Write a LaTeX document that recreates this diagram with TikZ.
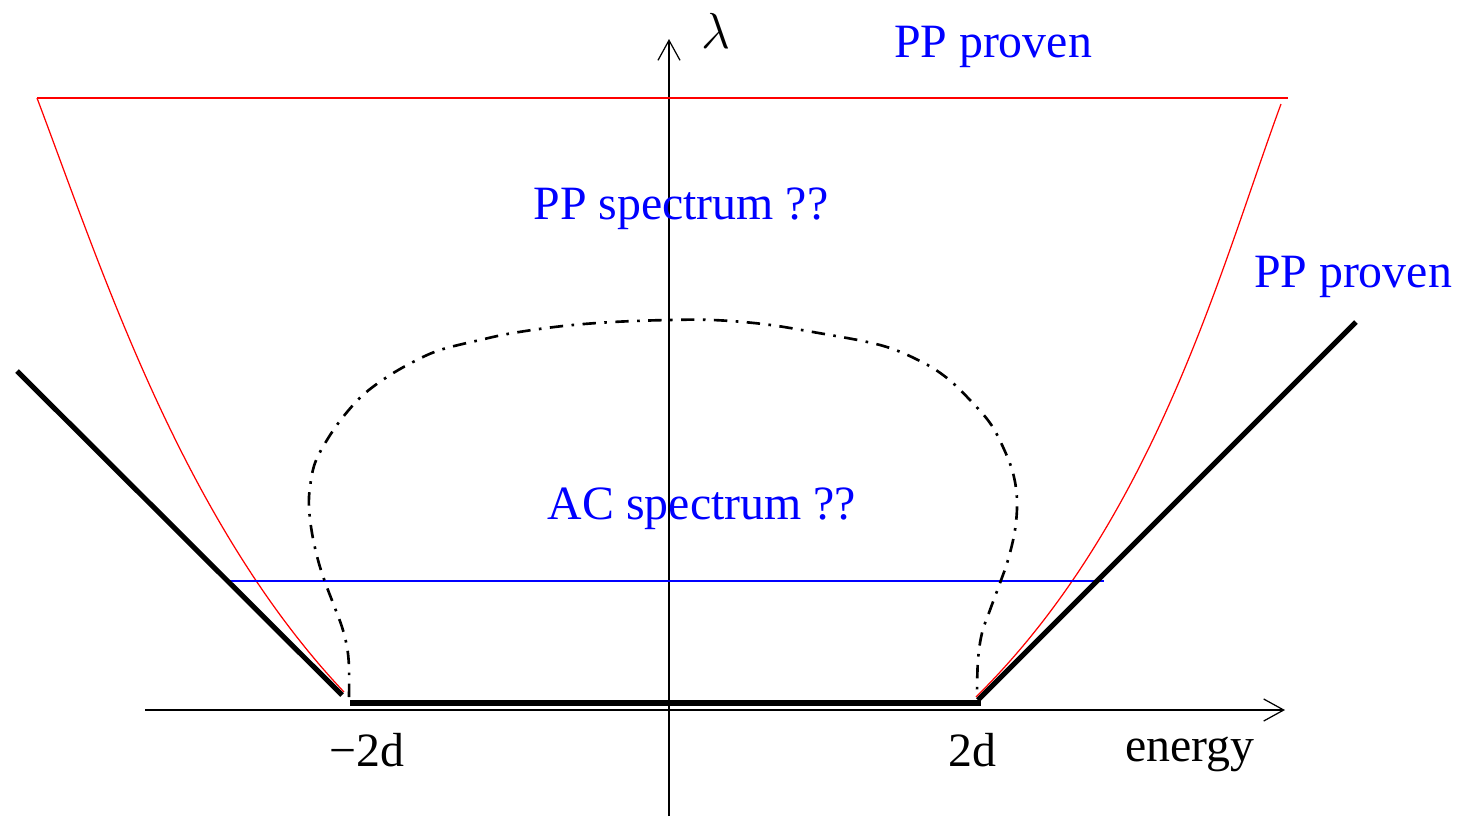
\documentclass[tikz,border=0pt]{standalone}
\usepackage{fontspec}
\setmainfont{Liberation Serif}
\usetikzlibrary{arrows.meta}
\begin{document}
\begin{tikzpicture}[x=0.01cm,y=-0.01cm,
  thick black/.style={line width=1.45pt, black},
  redline/.style={line width=0.35pt, red},
  axis/.style={line width=0.35pt, -{Straight Barb[length=2mm,width=2.2mm]}},
  dashdot/.style={line width=0.75pt, dash pattern=on 3.8pt off 2.4pt on 0.75pt off 2.4pt},
  lab/.style={font=\fontsize{13.6}{16}\selectfont, inner sep=0pt},
  bluelab/.style={lab, text=blue}]
\useasboundingbox (0,0) rectangle (1459,817);
% axes
\coordinate (xs) at (145,710);
\coordinate (xe) at (1285,710);
\coordinate (ys) at (669,816);
\coordinate (ye) at (669,39);
\draw[axis] (xs) -- (xe);
\draw[axis] (ys) -- (ye);
% red region
\coordinate (rtl) at (37,98);
\coordinate (rtr) at (1288,98);
\coordinate (rrs) at (1281,104);
\coordinate (rlb) at (344,692);
\coordinate (rrb) at (976,697);
\draw[redline] (rtl) -- (rtr);
\draw[redline] (rtl) .. controls (102,270) and (182,520) .. (rlb);
\draw[redline] (rrs) .. controls (1220,270) and (1155,520) .. (rrb);
% blue line
\coordinate (bl) at (228,581);
\coordinate (br) at (1104,581);
\draw[blue, line width=0.35pt] (bl) -- (br);
% thick black lines
\coordinate (la) at (17,371);
\coordinate (lb) at (342,695);
\coordinate (ba) at (350,703);
\coordinate (bb) at (981,703);
\coordinate (ra) at (978,700);
\coordinate (rb) at (1356,322);
\draw[thick black] (la) -- (lb);
\draw[thick black] (ba) -- (bb);
\draw[thick black] (ra) -- (rb);
% dash-dot curve
\draw[dashdot] plot[smooth, tension=0.6] coordinates {
  (349,697) (349,667) (347,647) (342,627) (333,603) (325,582) (318,560)
  (312,533) (309,507) (310,487) (315,463) (327,440) (343,417) (363,395)
  (387,377) (413,362) (440,350) (480,340) (513,333) (563,326) (613,322)
  (668,320) (713,320) (763,324) (813,332) (880,345) (920,361) (947,378)
  (970,400) (990,423) (1003,447) (1013,473) (1017,500) (1015,530)
  (1008,560) (1000,583) (990,610) (982,633) (978,660) (977,695)};
% labels
\node[lab] (lam) at (716,31) {$\lambda$};
\node[bluelab] (pp1) at (993,47) {PP proven};
\node[bluelab] (pps) at (681,209) {PP spectrum ??};
\node[bluelab] (pp2) at (1353,277) {PP proven};
\node[bluelab] (acs) at (702,509) {AC spectrum ??};
\node[lab] (m2d) at (367,750) {−2d};
\node[lab] (p2d) at (972,750) {2d};
\node[lab] (en) at (1190,754) {energy};
\end{tikzpicture}
\end{document}
